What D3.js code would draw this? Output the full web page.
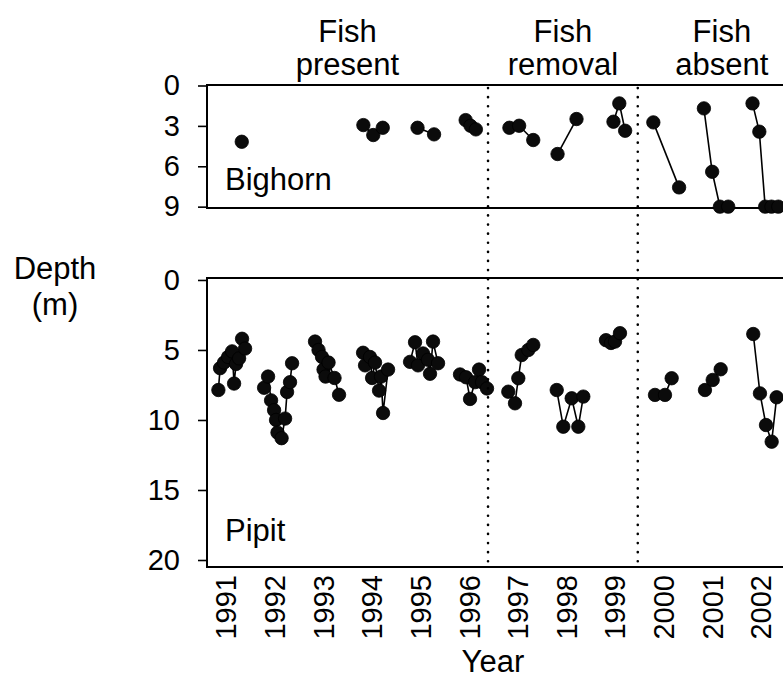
<!DOCTYPE html>
<html>
<head>
<meta charset="utf-8">
<script src="https://cdn.jsdelivr.net/npm/d3@7"></script>
<style>
  body { margin: 0; background: #fff; }
  text { font-family: "Liberation Sans", Arial, Helvetica, sans-serif; fill: #000; }
</style>
</head>
<body>
<script>
const width = 783;
const height = 689;

// tick labels
const years = d3.range(1991, 2003);
const bighornTicks = [0, 3, 6, 9];
const pipitTicks = [0, 5, 10, 15, 20];

// period boundaries (decimal year) and labels
const boundaries = [1996.40, 1999.48];
const periodLabels = [['Fish', 'present'], ['Fish', 'removal'], ['Fish', 'absent']];

// Bighorn: one array per season, [decimal year, depth m]
const bighorn = [
  [[1991.335, 4.18]],
  [[1993.836, 2.94], [1994.04, 3.68], [1994.235, 3.14]],
  [[1994.95, 3.14], [1995.29, 3.63]],
  [[1995.94, 2.57], [1996.04, 2.99], [1996.15, 3.26]],
  [[1996.84, 3.14], [1997.04, 2.99], [1997.33, 4.05]],
  [[1997.83, 5.09], [1998.22, 2.49]],
  [[1998.98, 2.69], [1999.10, 1.33], [1999.22, 3.36]],
  [[1999.80, 2.74], [2000.33, 7.57]],
  [[2000.84, 1.70], [2001.01, 6.41], [2001.17, 9.0], [2001.34, 9.0]],
  [[2001.84, 1.33], [2001.98, 3.43], [2002.10, 9.0], [2002.23, 9.0], [2002.37, 9.0]]
];

// Pipit
const pipit = [
  [[1990.854, 7.86], [1990.889, 6.3], [1990.971, 5.9], [1991.053, 5.5], [1991.136, 5.1],
   [1991.177, 7.4], [1991.218, 6.0], [1991.28, 5.6], [1991.341, 4.2], [1991.403, 4.9]],
  [[1991.794, 7.7], [1991.876, 6.9], [1991.938, 8.6], [1992.0, 9.3], [1992.04, 10.0],
   [1992.07, 10.9], [1992.154, 11.3], [1992.226, 9.9], [1992.267, 8.0], [1992.328, 7.3], [1992.37, 5.95]],
  [[1992.842, 4.4], [1992.914, 5.0], [1992.986, 5.5], [1993.017, 6.4], [1993.058, 6.9],
   [1993.12, 5.9], [1993.243, 7.0], [1993.336, 8.2]],
  [[1993.83, 5.2], [1993.871, 6.1], [1993.973, 5.5], [1994.015, 7.0], [1994.076, 5.9],
   [1994.159, 7.9], [1994.2, 6.9], [1994.241, 9.5], [1994.344, 6.4]],
  [[1994.796, 5.85], [1994.899, 4.45], [1994.96, 6.1], [1995.063, 5.25], [1995.166, 5.7],
   [1995.207, 6.7], [1995.269, 4.4], [1995.372, 5.95]],
  [[1995.824, 6.75], [1995.948, 6.95], [1996.03, 8.5], [1996.133, 7.3], [1996.215, 6.4],
   [1996.277, 7.3], [1996.379, 7.75]],
  [[1996.817, 7.98], [1996.955, 8.81], [1997.023, 7.02], [1997.093, 5.36], [1997.229, 5.0], [1997.331, 4.64]],
  [[1997.813, 7.86], [1997.948, 10.48], [1998.121, 8.45], [1998.257, 10.48], [1998.36, 8.33]],
  [[1998.826, 4.3], [1998.929, 4.5], [1999.012, 4.4], [1999.114, 3.8]],
  [[1999.834, 8.21], [2000.04, 8.21], [2000.177, 7.02]],
  [[2000.862, 7.86], [2001.021, 7.14], [2001.185, 6.38]],
  [[2001.855, 3.86], [2001.993, 8.1], [2002.117, 10.36], [2002.234, 11.55], [2002.336, 8.38]]
];

const svg = d3.select('body').append('svg').attr('width', width).attr('height', height);

const x = d3.scaleLinear().domain([1990.62, 2002.94]).range([207, 806]);
const yTop = d3.scaleLinear().domain([0, 9.1]).range([85.5, 208]);
const yBot = d3.scaleLinear().domain([-0.14, 20.5]).range([278, 567]);

const fontSize = 31;
const tickFont = 29;

function drawPanel(data, y, ticks, name, labelY) {
  const g = svg.append('g');
  const [y0, y1] = y.range();
  const top = Math.floor(y0);

  g.append('rect')
    .attr('x', x.range()[0])
    .attr('y', top)
    .attr('width', x.range()[1] - x.range()[0])
    .attr('height', y1 - top)
    .attr('fill', 'none')
    .attr('stroke', '#000')
    .attr('stroke-width', 2);

  const axis = g.append('g')
    .attr('transform', `translate(${x.range()[0]},0)`)
    .call(d3.axisLeft(y).tickValues(ticks).tickSize(9).tickPadding(18));
  axis.select('.domain').remove();
  axis.selectAll('line').attr('stroke', '#000').attr('stroke-width', 1.6);
  axis.selectAll('text')
    .style('font-size', tickFont + 'px')
    .style('font-family', '"Liberation Sans", Arial, sans-serif')
    .attr('fill', '#000');

  const line = d3.line().x(d => x(d[0])).y(d => y(d[1]));
  g.selectAll('path.season')
    .data(data)
    .enter()
    .append('path')
    .attr('class', 'season')
    .attr('d', line)
    .attr('fill', 'none')
    .attr('stroke', '#000')
    .attr('stroke-width', 1.6);

  g.selectAll('circle')
    .data(data.flat())
    .enter()
    .append('circle')
    .attr('cx', d => x(d[0]))
    .attr('cy', d => y(d[1]))
    .attr('r', 6.7)
    .attr('fill', '#0b0b0b')
    .attr('stroke', '#000')
    .attr('stroke-width', 0.8);

  g.append('text')
    .attr('x', 225)
    .attr('y', labelY)
    .style('font-size', fontSize + 'px')
    .text(name);

  return g;
}

drawPanel(bighorn, yTop, bighornTicks, 'Bighorn', 190);
drawPanel(pipit, yBot, pipitTicks, 'Pipit', 541);

// period separators
svg.selectAll('line.sep')
  .data(boundaries)
  .enter()
  .append('line')
  .attr('class', 'sep')
  .attr('x1', d => x(d))
  .attr('x2', d => x(d))
  .attr('y1', 88)
  .attr('y2', 567)
  .attr('stroke', '#000')
  .attr('stroke-width', 2.6)
  .attr('stroke-linecap', 'round')
  .attr('stroke-dasharray', '0.1,9');

// period labels
const edges = [x.domain()[0], ...boundaries, x.domain()[1]];
periodLabels.forEach((lines, i) => {
  const cx = (x(edges[i]) + x(edges[i + 1])) / 2;
  svg.append('text')
    .attr('x', cx)
    .attr('y', 42)
    .attr('text-anchor', 'middle')
    .style('font-size', fontSize + 'px')
    .text(lines[0]);
  svg.append('text')
    .attr('x', cx)
    .attr('y', 75)
    .attr('text-anchor', 'middle')
    .style('font-size', fontSize + 'px')
    .text(lines[1]);
});

// x axis (year labels, no tick marks)
const xAxis = svg.append('g')
  .attr('transform', `translate(0,${yBot.range()[1]})`)
  .call(d3.axisBottom(x).tickValues(years).tickSize(0).tickFormat(d3.format('d')));
xAxis.select('.domain').remove();
xAxis.selectAll('text')
  .attr('transform', 'rotate(-90)')
  .attr('x', -8)
  .attr('y', 0)
  .attr('dy', '0.36em')
  .attr('text-anchor', 'end')
  .style('font-size', tickFont + 'px')
  .style('font-family', '"Liberation Sans", Arial, sans-serif')
  .attr('fill', '#000');

svg.append('text')
  .attr('x', x(1996.5))
  .attr('y', 672)
  .attr('text-anchor', 'middle')
  .style('font-size', fontSize + 'px')
  .text('Year');

svg.append('text')
  .attr('x', 55)
  .attr('y', 279)
  .attr('text-anchor', 'middle')
  .style('font-size', fontSize + 'px')
  .text('Depth');
svg.append('text')
  .attr('x', 55)
  .attr('y', 315)
  .attr('text-anchor', 'middle')
  .style('font-size', fontSize + 'px')
  .text('(m)');
</script>
</body>
</html>
